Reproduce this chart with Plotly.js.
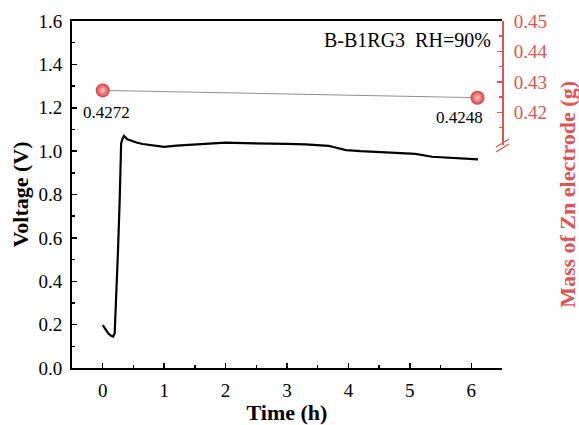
<!DOCTYPE html>
<html><head><meta charset="utf-8">
<script src="https://cdn.plot.ly/plotly-3.0.1.min.js"></script>
<style>svg text { font-family: 'Liberation Serif', 'Times New Roman', serif !important; }</style>
</head><body style="margin:0">
<div id="chart" style="width:579px;height:425px"></div>
<div id="spacer" style="width:1px;height:1px"></div>
<script>
// Voltage vs time
const timeH = [0, 0.05, 0.09, 0.13, 0.17, 0.195, 0.22, 0.25, 0.276, 0.30, 0.32, 0.346, 0.40, 0.44, 0.55, 0.65, 0.8, 1.0, 1.2, 1.5, 1.8, 2.0, 2.3, 2.5, 2.8, 3.0, 3.3, 3.5, 3.68, 3.74, 3.85, 3.96, 4.2, 4.39, 4.7, 5.09, 5.36, 5.7, 6.11];
const voltage = [0.198, 0.175, 0.16, 0.15, 0.145, 0.16, 0.31, 0.55, 0.77, 1.035, 1.055, 1.07, 1.055, 1.05, 1.04, 1.033, 1.026, 1.02, 1.025, 1.031, 1.036, 1.039, 1.037, 1.035, 1.034, 1.033, 1.031, 1.028, 1.024, 1.02, 1.012, 1.005, 1.0, 0.997, 0.993, 0.987, 0.974, 0.968, 0.962];
// Mass of Zn electrode
const massTime = [0, 6.1];
const massG = [0.4272, 0.4248];
const massLabels = ['0.4272', '0.4248'];
const sampleLabel = 'B-B1RG3\u00a0\u00a0RH=90%';

const RED = '#e05353';
const FONT = 'Liberation Serif';

const traces = [
  {x: timeH, y: voltage, type: 'scatter', mode: 'lines', xaxis: 'x', yaxis: 'y',
   line: {color: '#000', width: 2.2}},
  {x: massTime, y: massG, type: 'scatter', mode: 'lines+markers', xaxis: 'x', yaxis: 'y3',
   line: {color: '#909090', width: 1},
   marker: {size: 14, color: '#d83a3a', gradient: {type: 'radial', color: '#ffc8c8'}, line: {width: 0}}}
];

const BRK = 0.643;

const layout = {
  width: 579, height: 425,
  margin: {l: 72, r: 77, t: 21, b: 57},
  plot_bgcolor: 'rgba(0,0,0,0)',
  showlegend: false,
  font: {family: FONT},
  xaxis: {
    range: [-0.5, 6.5], dtick: 1, tick0: 0, showgrid: false, zeroline: false,
    showline: true, linecolor: '#000', linewidth: 2, mirror: true,
    ticks: 'inside', ticklen: 5, tickwidth: 1.5, tickcolor: '#000',
    minor: {dtick: 0.5, ticks: 'inside', ticklen: 3, tickwidth: 1.5, tickcolor: '#000', showgrid: false},
    tickfont: {family: FONT, size: 19, color: '#000'}, ticklabelstandoff: 4,
    title: {text: 'Time (h)', font: {family: FONT, size: 22, color: '#000', weight: 'bold'}, standoff: 6}
  },
  yaxis: {
    range: [0, 1.6], dtick: 0.2, tick0: 0, tickformat: '.1f', showgrid: false, zeroline: false,
    showline: true, linecolor: '#000', linewidth: 2,
    ticks: 'inside', ticklen: 5, tickwidth: 1.5, tickcolor: '#000',
    minor: {dtick: 0.1, ticks: 'inside', ticklen: 3, tickwidth: 1.5, tickcolor: '#000', showgrid: false},
    tickfont: {family: FONT, size: 19, color: '#000'}, ticklabelstandoff: 4,
    title: {text: 'Voltage (V)', font: {family: FONT, size: 22, color: '#000', weight: 'bold'}, standoff: 4}
  },
  yaxis2: {
    domain: [0, BRK], anchor: 'x', side: 'right',
    range: [0, 0.2534], tickvals: [0, 0.1, 0.2], tickformat: '.1f', showgrid: false, zeroline: false,
    showline: true, linecolor: RED, linewidth: 2,
    ticks: 'inside', ticklen: 5, tickwidth: 1.5, tickcolor: RED,
    minor: {tickvals: [0.05, 0.15], ticks: 'inside', ticklen: 3, tickwidth: 1.5, tickcolor: RED, showgrid: false},
    tickfont: {family: FONT, size: 19, color: RED}, ticklabelstandoff: 6
  },
  yaxis3: {
    domain: [BRK, 1], anchor: 'x', side: 'right',
    range: [0.4093, 0.45], tickvals: [0.42, 0.43, 0.44, 0.45], tickformat: '.2f', showgrid: false, zeroline: false,
    showline: true, linecolor: RED, linewidth: 2,
    ticks: 'inside', ticklen: 5, tickwidth: 1.5, tickcolor: RED,
    minor: {tickvals: [0.415, 0.425, 0.435, 0.445], ticks: 'inside', ticklen: 3, tickwidth: 1.5, tickcolor: RED, showgrid: false},
    tickfont: {family: FONT, size: 19, color: RED}, ticklabelstandoff: 6
  },
  annotations: [
    {x: massTime[0] + 0.065, y: 1.176, xref: 'x', yref: 'y', text: massLabels[0], showarrow: false,
     font: {family: FONT, size: 17, color: '#000'}, xanchor: 'center', yanchor: 'middle'},
    {x: 5.81, y: 1.153, xref: 'x', yref: 'y', text: massLabels[1], showarrow: false,
     font: {family: FONT, size: 17, color: '#000'}, xanchor: 'center', yanchor: 'middle'},
    {x: 6.36, y: 1.512, xref: 'x', yref: 'y', text: sampleLabel, showarrow: false,
     font: {family: FONT, size: 20, color: '#000'}, xanchor: 'right', yanchor: 'middle'},
    {x: 1.152, y: 0.5, xref: 'paper', yref: 'paper', text: 'Mass of Zn electrode (g)', showarrow: false,
     textangle: -90, font: {family: FONT, size: 22, color: RED, weight: 'bold'}, xanchor: 'center', yanchor: 'middle'}
  ],
  shapes: [
    {type: 'line', xref: 'paper', yref: 'paper', x0: (496-72)/430, y0: (368-147)/347, x1: (509-72)/430, y1: (368-139)/347,
     line: {color: RED, width: 1.3}},
    {type: 'line', xref: 'paper', yref: 'paper', x0: (496-72)/430, y0: (368-152)/347, x1: (509-72)/430, y1: (368-144)/347,
     line: {color: RED, width: 1.3}}
  ]
};

Plotly.newPlot('chart', traces, layout, {displayModeBar: false, staticPlot: true}).then(function (gd) {
  gd.querySelectorAll('text').forEach(function (t) {
    t.setAttribute('font-family', 'Liberation Serif');
    t.style.setProperty('font-family', "'Liberation Serif', 'Times New Roman', serif", 'important');
  });
});
</script>
</body></html>
